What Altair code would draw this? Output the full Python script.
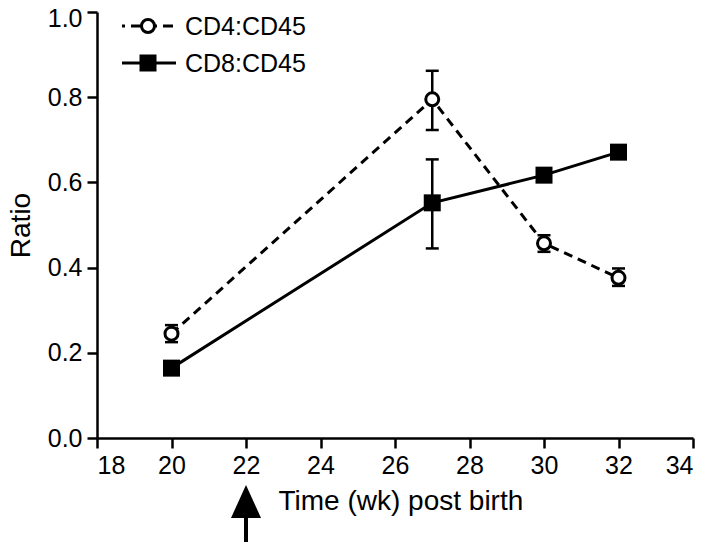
import altair as alt
import pandas as pd

# ---- data ----
weeks = [20, 27, 30, 32]
series = ["CD4:CD45", "CD8:CD45"]
cd4_mean = [0.245, 0.795, 0.457, 0.376]
cd4_low = [0.225, 0.723, 0.437, 0.357]
cd4_high = [0.265, 0.862, 0.476, 0.398]
cd8_mean = [0.164, 0.552, 0.617, 0.671]
cd8_low = [0.154, 0.445, 0.607, 0.659]
cd8_high = [0.174, 0.654, 0.627, 0.683]
x_ticks = [18, 20, 22, 24, 26, 28, 30, 32, 34]
y_ticks = [0.0, 0.2, 0.4, 0.6, 0.8, 1.0]
arrow_week = [22]

FONT = "Liberation Sans"

cd4 = pd.DataFrame({"week": weeks, "ratio": cd4_mean, "lo": cd4_low, "hi": cd4_high, "series": series[0]})
cd8 = pd.DataFrame({"week": weeks, "ratio": cd8_mean, "lo": cd8_low, "hi": cd8_high, "series": series[1]})
both = pd.concat([cd4, cd8], ignore_index=True)

x_enc = alt.X(
    "week:Q",
    scale=alt.Scale(domain=[18, 34], nice=False, zero=False),
    axis=alt.Axis(
        values=x_ticks, format="d", title="Time (wk) post birth",
        titleX=181, titleY=71, titleAlign="left", titleBaseline="alphabetic",
    ),
)
y_enc = alt.Y(
    "ratio:Q",
    scale=alt.Scale(domain=[0, 1], nice=False),
    axis=alt.Axis(
        values=y_ticks, format=".1f", title="Ratio",
        titleX=-68, titleY=213, titleAngle=270, titleAlign="center", titleBaseline="alphabetic",
        labelOffset={"condition": {"test": "datum.value == 1", "value": 6}, "value": 0},
    ),
)
x_plain = alt.X("week:Q", scale=alt.Scale(domain=[18, 34], nice=False, zero=False))

line8 = alt.Chart(cd8).mark_line(color="black", strokeWidth=3).encode(x=x_enc, y=y_enc)
line4 = alt.Chart(cd4).mark_line(color="black", strokeWidth=3, strokeDash=[9, 6]).encode(x=x_plain, y="ratio:Q")

err = alt.Chart(both).mark_rule(color="black", strokeWidth=2.5).encode(x=x_plain, y="lo:Q", y2="hi:Q")
cap_shape = "M-1,0L1,0"
cap_lo = alt.Chart(both).mark_point(shape=cap_shape, size=169, color="black", strokeWidth=2.5, filled=False, opacity=1).encode(x=x_plain, y="lo:Q")
cap_hi = alt.Chart(both).mark_point(shape=cap_shape, size=169, color="black", strokeWidth=2.5, filled=False, opacity=1).encode(x=x_plain, y="hi:Q")

sq8 = alt.Chart(cd8).mark_point(shape="square", size=289, filled=True, color="black", opacity=1).encode(x=x_plain, y="ratio:Q")
circ4 = alt.Chart(cd4).mark_point(shape="circle", size=169, filled=False, fill="white", fillOpacity=1,
                                  stroke="black", strokeWidth=3, opacity=1).encode(x=x_plain, y="ratio:Q")

# ---- legend (top left, inside the plot) ----
leg4 = pd.DataFrame({"label": [series[0]]})
leg8 = pd.DataFrame({"label": [series[1]]})
leg4_line = alt.Chart(leg4).mark_rule(color="black", strokeWidth=3, strokeDash=[10, 6], strokeDashOffset=7).encode(
    x=alt.value(25), x2=alt.value(79), y=alt.value(14))
leg4_mark = alt.Chart(leg4).mark_point(shape="circle", size=169, filled=False, fill="white", fillOpacity=1,
                                       stroke="black", strokeWidth=3, opacity=1).encode(x=alt.value(51), y=alt.value(14))
leg4_text = alt.Chart(leg4).mark_text(align="left", baseline="middle", font=FONT, fontSize=25, color="black").encode(
    x=alt.value(88), y=alt.value(15), text="label:N")
leg8_line = alt.Chart(leg8).mark_rule(color="black", strokeWidth=3).encode(
    x=alt.value(25), x2=alt.value(79), y=alt.value(51))
leg8_mark = alt.Chart(leg8).mark_point(shape="square", size=289, filled=True, color="black", opacity=1).encode(
    x=alt.value(51), y=alt.value(51))
leg8_text = alt.Chart(leg8).mark_text(align="left", baseline="middle", font=FONT, fontSize=25, color="black").encode(
    x=alt.value(88), y=alt.value(52), text="label:N")

# ---- arrow at week 22 below the axis ----
arrow_df = pd.DataFrame({"week": arrow_week})
arrow_shaft = alt.Chart(arrow_df).mark_rule(color="black", strokeWidth=4).encode(
    x=x_plain, y=alt.value(500), y2=alt.value(540))
arrow_head = alt.Chart(arrow_df).mark_point(shape="M0,-1L0.91,1L-0.91,1Z", size=1089, filled=True,
                                            color="black", opacity=1).encode(x=x_plain, y=alt.value(489.5))

chart = alt.layer(
    line8, line4, err, cap_lo, cap_hi, sq8, circ4,
    leg4_line, leg4_mark, leg4_text, leg8_line, leg8_mark, leg8_text,
    arrow_shaft, arrow_head,
).properties(
    width=596, height=426,
    autosize=alt.AutoSizeParams(type="none"),
    padding={"left": 89, "top": 4, "right": 8, "bottom": 104},
).configure_view(stroke=None).configure_axis(
    grid=False,
    domainColor="black", domainWidth=2.5,
    tickColor="black", tickWidth=2.5, tickSize=10,
    labelFont=FONT, labelFontSize=25, labelColor="black", labelPadding=5,
    titleFont=FONT, titleFontSize=28, titleFontWeight="normal", titleColor="black",
)

chart.save("out.html", embed_options={"renderer": "svg", "actions": False})
